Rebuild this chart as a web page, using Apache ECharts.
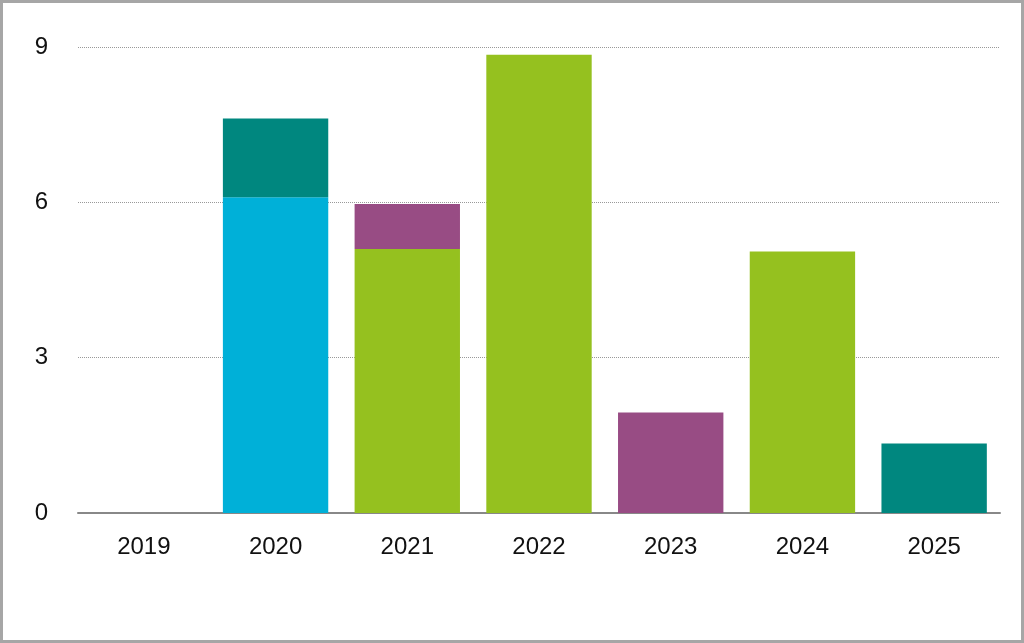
<!DOCTYPE html>
<html>
<head>
<meta charset="utf-8"/>
<script src="https://cdn.jsdelivr.net/npm/echarts@6/dist/echarts.min.js"></script>
<style>
html,body{margin:0;padding:0;background:#fff;}
#chart{width:1018px;height:637px;border:3px solid #a6a6a6;}
</style>
</head>
<body>
<div id="chart"></div>
<script>
var years = ['2019', '2020', '2021', '2022', '2023', '2024', '2025'];
var greenVals = [0, 0, 5.1, 8.85, 0, 5.05, 0];
var blueVals = [0, 6.1, 0, 0, 0, 0, 0];
var tealVals = [0, 1.52, 0, 0, 0, 0, 1.34];
var purpleVals = [0, 0, 0.87, 0, 1.94, 0, 0];

var chart = echarts.init(document.getElementById('chart'));

function mk(name, data, color) {
    return {
        name: name, type: 'bar', stack: 'a', data: data, barWidth: '80%',
        itemStyle: {color: color}
    };
}

chart.setOption({
    animation: false,
    grid: {left: 75, right: 21, top: 44, bottom: 127},
    xAxis: {
        type: 'category', data: years,
        axisLine: {lineStyle: {color: '#888', width: 2}},
        axisTick: {show: false},
        axisLabel: {color: '#111', fontSize: 24, margin: 22, fontFamily: 'Liberation Sans'}
    },
    yAxis: {
        type: 'value', min: 0, max: 9, interval: 3,
        axisLabel: {color: '#111', fontSize: 24, margin: 30, fontFamily: 'Liberation Sans'},
        splitLine: {lineStyle: {color: '#999', type: 'dotted'}}
    },
    series: [
        mk('green', greenVals, '#95c11f'),
        mk('blue', blueVals, '#00b0d8'),
        mk('teal', tealVals, '#00877f'),
        mk('purple', purpleVals, '#984c84')
    ]
});
</script>
</body>
</html>
